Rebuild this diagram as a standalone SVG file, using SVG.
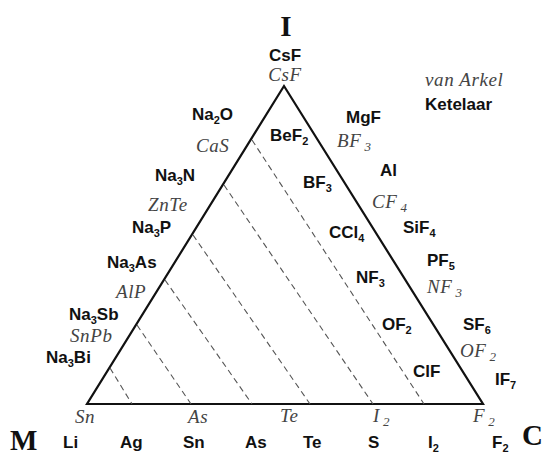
<svg xmlns="http://www.w3.org/2000/svg" width="544" height="455" viewBox="0 0 544 455">
<style>
.b{font-family:'Liberation Sans',Arial,sans-serif;font-weight:bold;font-size:17px;fill:#111}
.i{font-family:'Liberation Serif','Times New Roman',serif;font-style:italic;font-size:19px;fill:#444;letter-spacing:0.6px}
.s{font-size:11px}
.i .s{font-size:13px}
.ax{font-family:'Liberation Serif','Times New Roman',serif;font-weight:bold;font-size:29px;fill:#111}
.edge{fill:none;stroke:#111;stroke-width:2.2;stroke-linejoin:miter}
.dash{fill:none;stroke:#555;stroke-width:1.1;stroke-dasharray:6 4}
</style>
<rect width="544" height="455" fill="#fff"/>
<g id="connectors">
<polygon class="edge" points="284,86 87,404 483,404"/>
<line class="dash" x1="110" y1="368" x2="132" y2="404"/>
<line class="dash" x1="137" y1="325" x2="191" y2="404"/>
<line class="dash" x1="165" y1="280" x2="252" y2="404"/>
<line class="dash" x1="193" y1="235" x2="310" y2="404"/>
<line class="dash" x1="224" y1="185" x2="373" y2="404"/>
<line class="dash" x1="252" y1="140" x2="424" y2="404"/>
</g>
<g id="axis-I"><text class="ax" x="286" y="36" text-anchor="middle">I</text></g>
<g id="axis-M"><text class="ax" x="10" y="450">M</text></g>
<g id="axis-C"><text class="ax" x="522" y="445">C</text></g>
<g id="apex">
<text class="b" x="285" y="61" text-anchor="middle">CsF</text>
<text class="i" x="285" y="81" text-anchor="middle">CsF</text>
</g>
<g id="legend">
<text class="i" x="425" y="86">van Arkel</text>
<text class="b" x="425" y="110">Ketelaar</text>
</g>
<g id="left-side">
<text class="b" x="192" y="120">Na<tspan class="s" dy="4">2</tspan><tspan dy="-4">O</tspan></text>
<text class="i" x="196" y="152">CaS</text>
<text class="b" x="155" y="181">Na<tspan class="s" dy="4">3</tspan><tspan dy="-4">N</tspan></text>
<text class="i" x="148" y="211">ZnTe</text>
<text class="b" x="132" y="233">Na<tspan class="s" dy="4">3</tspan><tspan dy="-4">P</tspan></text>
<text class="b" x="107" y="268">Na<tspan class="s" dy="4">3</tspan><tspan dy="-4">As</tspan></text>
<text class="i" x="116" y="298">AlP</text>
<text class="b" x="69" y="320">Na<tspan class="s" dy="4">3</tspan><tspan dy="-4">Sb</tspan></text>
<text class="i" x="70" y="342">SnPb</text>
<text class="b" x="46" y="363">Na<tspan class="s" dy="4">3</tspan><tspan dy="-4">Bi</tspan></text>
</g>
<g id="inside">
<text class="b" x="270" y="141">BeF<tspan class="s" dy="4">2</tspan></text>
<text class="b" x="303" y="188">BF<tspan class="s" dy="4">3</tspan></text>
<text class="b" x="329" y="238">CCl<tspan class="s" dy="4">4</tspan></text>
<text class="b" x="356" y="283">NF<tspan class="s" dy="4">3</tspan></text>
<text class="b" x="382" y="330">OF<tspan class="s" dy="4">2</tspan></text>
<text class="b" x="413" y="377">ClF</text>
</g>
<g id="right-side">
<text class="b" x="346" y="123">MgF</text>
<text class="i" x="337" y="147">BF<tspan class="s" dx="3" dy="4">3</tspan></text>
<text class="b" x="380" y="176">Al</text>
<text class="i" x="372" y="208">CF<tspan class="s" dx="3" dy="4">4</tspan></text>
<text class="b" x="403" y="233">SiF<tspan class="s" dy="4">4</tspan></text>
<text class="b" x="427" y="266">PF<tspan class="s" dy="4">5</tspan></text>
<text class="i" x="427" y="293">NF<tspan class="s" dx="3" dy="4">3</tspan></text>
<text class="b" x="463" y="330">SF<tspan class="s" dy="4">6</tspan></text>
<text class="i" x="460" y="357">OF<tspan class="s" dx="3" dy="4">2</tspan></text>
<text class="b" x="495" y="385">IF<tspan class="s" dy="4">7</tspan></text>
</g>
<g id="bottom-italic">
<text class="i" x="75" y="423">Sn</text>
<text class="i" x="188" y="423">As</text>
<text class="i" x="280" y="422">Te</text>
<text class="i" x="373" y="422">I<tspan class="s" dx="3" dy="4">2</tspan></text>
<text class="i" x="473" y="422">F<tspan class="s" dx="3" dy="4">2</tspan></text>
</g>
<g id="bottom-bold">
<text class="b" x="63" y="448">Li</text>
<text class="b" x="120" y="448">Ag</text>
<text class="b" x="183" y="448">Sn</text>
<text class="b" x="245" y="448">As</text>
<text class="b" x="303" y="448">Te</text>
<text class="b" x="368" y="448">S</text>
<text class="b" x="428" y="448">I<tspan class="s" dy="4">2</tspan></text>
<text class="b" x="492" y="448">F<tspan class="s" dy="4">2</tspan></text>
</g>
</svg>
